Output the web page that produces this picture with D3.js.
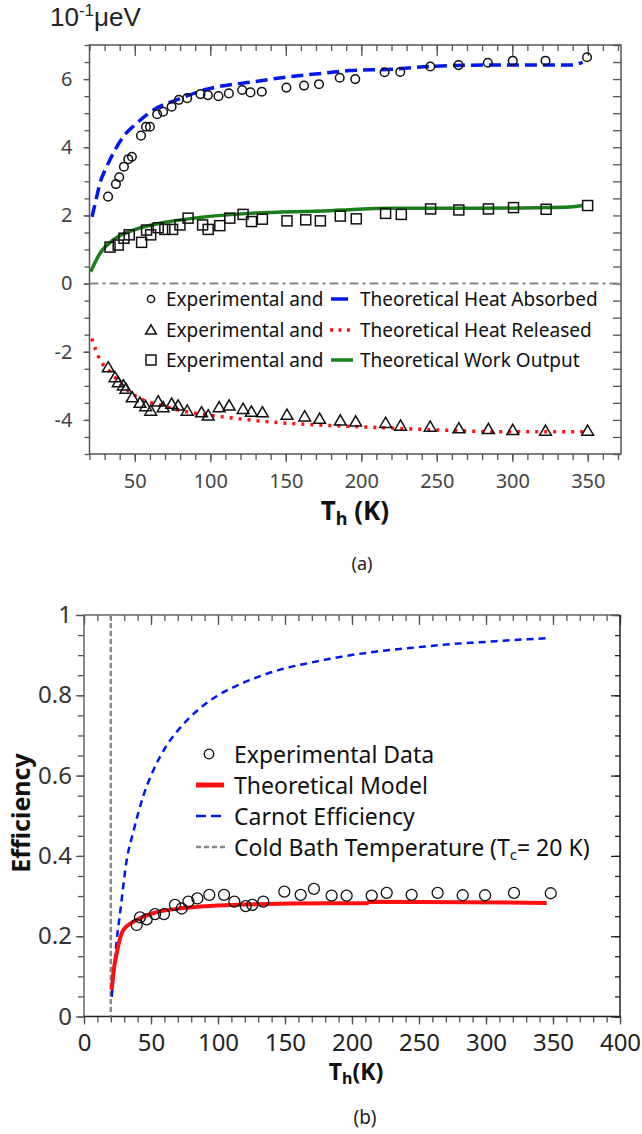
<!DOCTYPE html>
<html><head><meta charset="utf-8">
<script src="https://cdn.jsdelivr.net/npm/d3@7"></script>
<style>
body{margin:0;background:#fff;}
svg{display:block;font-family:"Noto Sans",sans-serif;}
</style></head>
<body><svg id="c" width="642" height="1134"></svg>
<script>
// ---------- Panel (a) data ----------
const absTemps = [32.3,37.5,39.7,42.8,45.7,48.1,54.1,57.4,60,64.8,68.8,74.4,79.2,84.7,93.5,98.4,105.4,112.3,121.1,126.6,134.1,150.4,162.1,172,185.7,196,215.4,225.8,245.7,264.4,283.8,300.3,322,349.5];
const absExp = [2.55,2.92,3.12,3.43,3.65,3.72,4.34,4.60,4.60,4.97,5.04,5.19,5.39,5.44,5.56,5.53,5.50,5.58,5.68,5.61,5.63,5.75,5.81,5.85,6.04,6.00,6.20,6.21,6.37,6.41,6.48,6.54,6.54,6.64];
const relTemps = [32.4,36.9,39,42.4,44.1,48.3,53.4,57.2,60.5,65.5,68.8,74.4,78.7,84.7,94.2,98.6,105.9,112.5,121.7,127.2,134.5,150.8,162.5,172.4,186.1,196.3,216.1,226,245.6,264.6,284.2,300.3,322,349.9];
const relExp = [-2.49,-2.78,-2.93,-3.02,-3.12,-3.37,-3.53,-3.63,-3.76,-3.49,-3.66,-3.56,-3.61,-3.76,-3.81,-3.90,-3.66,-3.61,-3.71,-3.79,-3.81,-3.88,-3.93,-4.00,-4.05,-4.08,-4.12,-4.20,-4.23,-4.28,-4.30,-4.33,-4.35,-4.35];
const workTemps = [33.6,39,42.8,46.3,54.5,57.8,60.5,65.5,69.9,75,79.9,85.3,94.9,98.6,106.3,112.9,121.7,127.3,134.5,150.8,163.2,172.9,186.1,196.7,216.1,226.5,245.9,264.6,284.2,300.8,322.4,349.9];
const workExp = [1.07,1.13,1.33,1.43,1.21,1.57,1.43,1.64,1.59,1.59,1.72,1.92,1.72,1.59,1.70,1.92,2.03,1.82,1.89,1.84,1.87,1.84,1.98,1.90,2.06,2.03,2.19,2.16,2.19,2.23,2.18,2.29];

const absThT = [21.7,24.8,26.9,31.4,36.9,42.4,51.2,57.8,62.2,77.7,97.5,128.4,152.6,179,192,220.9,245.2,280.5,320,337.8,346.6];
const absThV = [1.96,2.55,2.94,3.43,3.92,4.31,4.70,4.95,5.09,5.39,5.70,5.92,6.07,6.19,6.25,6.29,6.37,6.41,6.41,6.41,6.49];
const relThT = [21.5,27,33.6,42.4,53.4,66.6,84.3,106.3,137.2,172.4,198.9,254,298,348.8];
const relThV = [-1.61,-2.24,-2.58,-3.02,-3.37,-3.56,-3.76,-3.90,-4.05,-4.15,-4.20,-4.30,-4.35,-4.35];
const workThT = [20.8,27,35.7,49,66.6,93,126,179,187.9,221,276,335.6,346.6];
const workThV = [0.35,0.89,1.28,1.57,1.77,1.94,2.06,2.14,2.16,2.21,2.21,2.24,2.29];

const aXTicks = [50,100,150,200,250,300,350];
const aYTicks = [-4,-2,0,2,4,6];
const aLegendLeft = ["Experimental and","Experimental and","Experimental and"];
const aLegendRight = ["Theoretical Heat Absorbed","Theoretical Heat Released","Theoretical Work Output"];

// ---------- Panel (b) data ----------
const effTemps = [39.3,41.8,46.8,53,59.7,67.9,72.9,77.9,84.6,93.5,104.5,112.2,120.7,125.6,133.8,149.5,161.7,171.6,184.8,196,214.7,225.9,244.5,263.9,282.6,299.3,320.9,348.3];
const effExp = [0.228,0.247,0.242,0.255,0.255,0.278,0.269,0.286,0.294,0.303,0.303,0.286,0.275,0.278,0.286,0.311,0.303,0.318,0.301,0.301,0.301,0.308,0.303,0.308,0.302,0.302,0.308,0.307];
const modelT = [20.7,21.9,24.4,28.1,32,36.8,49.3,74.1,111.4,183.6,211,213.4,345.3];
const modelV = [0.066,0.108,0.157,0.207,0.225,0.236,0.255,0.270,0.278,0.282,0.282,0.286,0.283];
const carnotT = [20.7,22.5,24.4,27,31.9,36.8,44.3,52,61.7,72,86.6,100,111.4,130,148.7,168.7,190,218.4,250,268.1,300,317.9,345.3];
const carnotV = [0.049,0.12,0.19,0.26,0.39,0.46,0.55,0.615,0.675,0.72,0.768,0.80,0.82,0.846,0.866,0.881,0.895,0.909,0.920,0.926,0.933,0.937,0.942];
const coldBathT = 20;
const bXTicks = [0,50,100,150,200,250,300,350,400];
const bYTicks = [0,0.2,0.4,0.6,0.8,1];
const bLegend = ["Experimental Data","Theoretical Model","Carnot Efficiency","Cold Bath Temperature"];

const svg = d3.select("#c");
const zip = (a,b)=>a.map((t,i)=>[t,b[i]]);

function styleAxis(g, color, fs, tcol){
  g.select(".domain").remove();
  g.selectAll(".tick line").attr("stroke",color).attr("stroke-width",1.3);
  g.selectAll(".tick text").attr("fill",tcol).attr("font-size",fs).attr("font-family","'Noto Sans',sans-serif");
}

// ================= Panel (a) =================
const xA = d3.scaleLinear().domain([20,372]).range([89.5,621]);
const yA = d3.scaleLinear().domain([-5,7]).range([454,45]);
const axCol = "#555", lblCol = "#444";
const aMinorX = d3.range(20,371,10), aMinorY = d3.range(-5,7.01,0.5);

let g;
g = svg.append("g").attr("transform",`translate(0,${yA(-5)})`).call(d3.axisBottom(xA).tickValues(aMinorX).tickFormat("").tickSize(6)); styleAxis(g,axCol,20,lblCol);
g = svg.append("g").attr("transform",`translate(0,${yA(-5)})`).call(d3.axisBottom(xA).tickValues(aXTicks).tickSize(8).tickPadding(12)); styleAxis(g,axCol,20,lblCol);
g = svg.append("g").attr("transform",`translate(0,${yA(7)})`).call(d3.axisTop(xA).tickValues(aMinorX).tickFormat("").tickSize(-6)); styleAxis(g,axCol,20,lblCol);
g = svg.append("g").attr("transform",`translate(0,${yA(7)})`).call(d3.axisTop(xA).tickValues(aXTicks).tickFormat("").tickSize(-11)); styleAxis(g,axCol,20,lblCol);
g = svg.append("g").attr("transform",`translate(${xA(20)},0)`).call(d3.axisLeft(yA).tickValues(aMinorY).tickFormat("").tickSize(5)); styleAxis(g,axCol,20,lblCol);
g = svg.append("g").attr("transform",`translate(${xA(20)},0)`).call(d3.axisLeft(yA).tickValues(aYTicks).tickSize(6).tickPadding(11).tickFormat(d3.format("d"))); styleAxis(g,axCol,20,lblCol);
g = svg.append("g").attr("transform",`translate(${xA(372)},0)`).call(d3.axisRight(yA).tickValues(aMinorY).tickFormat("").tickSize(-8)); styleAxis(g,axCol,20,lblCol);
svg.selectAll(".tick text").each(function(){const t=d3.select(this); t.text(t.text().replace("−","-"));});

svg.append("rect").attr("x",xA(20)).attr("y",yA(7)).attr("width",xA(372)-xA(20)).attr("height",yA(-5)-yA(7))
  .attr("fill","none").attr("stroke",axCol).attr("stroke-width",1.5);

svg.append("line").attr("x1",xA(20)).attr("x2",xA(372)).attr("y1",yA(0)).attr("y2",yA(0))
  .attr("stroke","#888").attr("stroke-width",2).attr("stroke-dasharray","9,4,3,4");

const lineA = d3.line().x(d=>xA(d[0])).y(d=>yA(d[1])).curve(d3.curveMonotoneX);
svg.append("path").attr("d",lineA(zip(workThT,workThV))).attr("fill","none").attr("stroke","#1a7f1a").attr("stroke-width",3.5);
svg.append("path").attr("d",lineA(zip(absThT,absThV))).attr("fill","none").attr("stroke","#0018f0").attr("stroke-width",3.5).attr("stroke-dasharray","12,6");
svg.append("path").attr("d",lineA(zip(relThT,relThV))).attr("fill","none").attr("stroke","#ff1010").attr("stroke-width",3.5).attr("stroke-dasharray","3,6");

const mk = "#111";
svg.append("g").selectAll("circle").data(zip(absTemps,absExp)).join("circle")
  .attr("cx",d=>xA(d[0])).attr("cy",d=>yA(d[1])).attr("r",4.3).attr("fill","none").attr("stroke",mk).attr("stroke-width",1.5);
const tri = d3.symbol().type(d3.symbolTriangle).size(60);
svg.append("g").selectAll("path").data(zip(relTemps,relExp)).join("path")
  .attr("transform",d=>`translate(${xA(d[0])},${yA(d[1])})`).attr("d",tri).attr("fill","none").attr("stroke",mk).attr("stroke-width",1.5);
svg.append("g").selectAll("rect").data(zip(workTemps,workExp)).join("rect")
  .attr("x",d=>xA(d[0])-5).attr("y",d=>yA(d[1])-5).attr("width",10).attr("height",10).attr("fill","none").attr("stroke",mk).attr("stroke-width",1.5);

// legend (a)
const legY = [299,330,360];
const lg = svg.append("g");
lg.append("circle").attr("cx",151).attr("cy",legY[0]).attr("r",3.6).attr("fill","none").attr("stroke",mk).attr("stroke-width",1.5);
lg.append("path").attr("transform",`translate(151,${legY[1]+1})`).attr("d",d3.symbol().type(d3.symbolTriangle).size(50)).attr("fill","none").attr("stroke",mk).attr("stroke-width",1.5);
lg.append("rect").attr("x",146).attr("y",legY[2]-5).attr("width",10).attr("height",10).attr("fill","none").attr("stroke",mk).attr("stroke-width",1.5);
aLegendLeft.forEach((t,i)=>lg.append("text").attr("x",166).attr("y",legY[i]+6.5).attr("font-size",19).attr("fill","#111").text(t));
aLegendRight.forEach((t,i)=>lg.append("text").attr("x",360).attr("y",legY[i]+6.5).attr("font-size",19).attr("fill","#111").text(t));
lg.append("line").attr("x1",331).attr("x2",348).attr("y1",legY[0]).attr("y2",legY[0]).attr("stroke","#0018f0").attr("stroke-width",3.5);
lg.append("line").attr("x1",330).attr("x2",352).attr("y1",legY[1]).attr("y2",legY[1]).attr("stroke","#ff1010").attr("stroke-width",3.5).attr("stroke-dasharray","3,5.5");
lg.append("line").attr("x1",331).attr("x2",353).attr("y1",legY[2]).attr("y2",legY[2]).attr("stroke","#1a7f1a").attr("stroke-width",3.5);

// labels (a)
const ul = svg.append("text").attr("x",50).attr("y",26).attr("font-family","'Liberation Sans',Arial,sans-serif").attr("font-size",26).attr("fill","#222");
ul.append("tspan").text("10");
ul.append("tspan").attr("font-size",17).attr("dy",-10).text("-1");
ul.append("tspan").attr("dy",10).text("μeV");
const xl = svg.append("text").attr("x",355).attr("y",520).attr("text-anchor","middle").attr("font-size",26).attr("font-weight","bold").attr("fill","#111");
xl.append("tspan").text("T");
xl.append("tspan").attr("font-size",18).attr("dy",5).text("h");
xl.append("tspan").attr("dy",-5).text(" (K)");
svg.append("text").attr("x",362).attr("y",570).attr("text-anchor","middle").attr("font-size",18).attr("fill","#222").text("(a)");

// ================= Panel (b) =================
const xB = d3.scaleLinear().domain([0,400]).range([84,620]);
const yB = d3.scaleLinear().domain([0,1]).range([1016.5,615]);
const bMinorX = d3.range(0,401,10), bMinorY = d3.range(0,1.001,0.05);

g = svg.append("g").attr("transform",`translate(0,${yB(0)})`).call(d3.axisBottom(xB).tickValues(bMinorX).tickFormat("").tickSize(6)); styleAxis(g,axCol,24,"#222");
g = svg.append("g").attr("transform",`translate(0,${yB(0)})`).call(d3.axisBottom(xB).tickValues(bXTicks).tickSize(8).tickPadding(9)); styleAxis(g,axCol,24,"#222");
g = svg.append("g").attr("transform",`translate(0,${yB(1)})`).call(d3.axisTop(xB).tickValues(bMinorX).tickFormat("").tickSize(-6)); styleAxis(g,axCol,24,"#222");
g = svg.append("g").attr("transform",`translate(0,${yB(1)})`).call(d3.axisTop(xB).tickValues(bXTicks).tickFormat("").tickSize(-10)); styleAxis(g,axCol,24,"#222");
g = svg.append("g").attr("transform",`translate(${xB(0)},0)`).call(d3.axisLeft(yB).tickValues(bMinorY).tickFormat("").tickSize(6)); styleAxis(g,axCol,24,"#222");
g = svg.append("g").attr("transform",`translate(${xB(0)},0)`).call(d3.axisLeft(yB).tickValues(bYTicks).tickSize(8).tickPadding(4).tickFormat(d=>d3.format("~g")(d))); styleAxis(g,axCol,24,"#333");
g = svg.append("g").attr("transform",`translate(${xB(400)},0)`).call(d3.axisRight(yB).tickValues(bMinorY).tickFormat("").tickSize(-5)); styleAxis(g,"#222",24,"#222");
g = svg.append("g").attr("transform",`translate(${xB(400)},0)`).call(d3.axisRight(yB).tickValues(bYTicks).tickFormat("").tickSize(-9)); styleAxis(g,"#222",24,"#222");

svg.append("path").attr("d",`M${xB(0)},${yB(0)}V${yB(1)}H${xB(400)}`).attr("fill","none").attr("stroke","#666").attr("stroke-width",1.5);
svg.append("path").attr("d",`M${xB(0)},${yB(0)}H${xB(400)}V${yB(1)}`).attr("fill","none").attr("stroke","#222").attr("stroke-width",1.5);

svg.append("line").attr("x1",xB(coldBathT)).attr("x2",xB(coldBathT)).attr("y1",yB(1)).attr("y2",yB(0))
  .attr("stroke","#888").attr("stroke-width",2.5).attr("stroke-dasharray","5,3");

const lineB = d3.line().x(d=>xB(d[0])).y(d=>yB(d[1])).curve(d3.curveMonotoneX);
svg.append("path").attr("d",lineB(zip(carnotT,carnotV))).attr("fill","none").attr("stroke","#0018f0").attr("stroke-width",2.5).attr("stroke-dasharray","7,5");
svg.append("path").attr("d",lineB(zip(modelT,modelV))).attr("fill","none").attr("stroke","#ff1010").attr("stroke-width",4);
svg.append("g").selectAll("circle").data(zip(effTemps,effExp)).join("circle")
  .attr("cx",d=>xB(d[0])).attr("cy",d=>yB(d[1])).attr("r",5.5).attr("fill","none").attr("stroke",mk).attr("stroke-width",1.3);

// legend (b)
const bY = [754,785,816,847];
const lb = svg.append("g");
lb.append("circle").attr("cx",209).attr("cy",bY[0]).attr("r",4.8).attr("fill","none").attr("stroke",mk).attr("stroke-width",1.3);
lb.append("line").attr("x1",196).attr("x2",224).attr("y1",bY[1]).attr("y2",bY[1]).attr("stroke","#ff1010").attr("stroke-width",5);
lb.append("line").attr("x1",196).attr("x2",226).attr("y1",bY[2]).attr("y2",bY[2]).attr("stroke","#0018f0").attr("stroke-width",2.5).attr("stroke-dasharray","10,5");
lb.append("line").attr("x1",196).attr("x2",226).attr("y1",bY[3]).attr("y2",bY[3]).attr("stroke","#888").attr("stroke-width",2.5).attr("stroke-dasharray","5,3");
bLegend.slice(0,3).forEach((t,i)=>lb.append("text").attr("x",234).attr("y",bY[i]+8.5).attr("font-size",23).attr("fill","#111").text(t));
const cb = lb.append("text").attr("x",234).attr("y",bY[3]+8.5).attr("font-size",23).attr("fill","#111");
cb.append("tspan").text(bLegend[3]+" (T");
cb.append("tspan").attr("font-size",15).attr("dy",4).text("c");
cb.append("tspan").attr("dy",-4).text("= 20 K)");

const xlb = svg.append("text").attr("x",356).attr("y",1080).attr("text-anchor","middle").attr("font-size",23).attr("font-weight","bold").attr("fill","#111");
xlb.append("tspan").text("T");
xlb.append("tspan").attr("font-size",16).attr("dy",4).text("h");
xlb.append("tspan").attr("dy",-4).text("(K)");
svg.append("text").attr("transform","translate(30,813) rotate(-90)").attr("text-anchor","middle").attr("font-size",25).attr("font-weight","bold").attr("fill","#111").text("Efficiency");
svg.append("text").attr("x",365).attr("y",1124).attr("text-anchor","middle").attr("font-size",19).attr("fill","#222").text("(b)");
</script></body></html>
